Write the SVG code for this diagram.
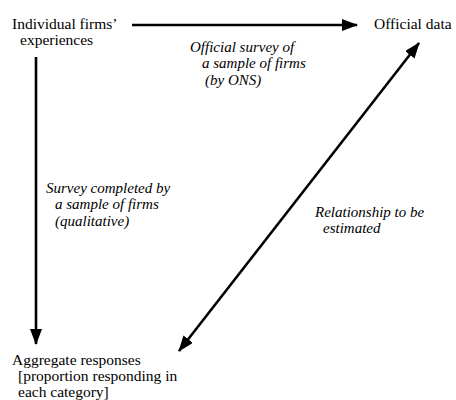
<svg xmlns="http://www.w3.org/2000/svg" width="456" height="400" viewBox="0 0 456 400">
<style>
.c{stroke:#000;stroke-width:2.6;fill:none}
</style>
<defs>
<marker id="ah" markerUnits="userSpaceOnUse" markerWidth="16" markerHeight="12" refX="15" refY="6" orient="auto-start-reverse">
<path d="M0,0 L16,6 L0,12 Z" fill="#000"/>
</marker>
</defs>
<rect width="456" height="400" fill="#fff"/>
<g id="connectors">
<line class="c" x1="132" y1="25" x2="357" y2="25" marker-end="url(#ah)"/>
<line class="c" x1="36" y1="57" x2="36" y2="344" marker-end="url(#ah)"/>
<line class="c" x1="419" y1="43" x2="179" y2="351" marker-start="url(#ah)" marker-end="url(#ah)"/>
</g>
<g font-family="Liberation Serif, Times New Roman, Tinos, DejaVu Serif, serif" font-size="15.5" fill="#000">
<g id="firms">
<text x="12" y="29">Individual firms’</text>
<text x="20" y="45">experiences</text>
</g>
<g id="official">
<text x="374" y="29">Official data</text>
</g>
<g id="aggregate">
<text x="12" y="365">Aggregate responses</text>
<text x="18" y="381">[proportion responding in</text>
<text x="18" y="397">each category]</text>
</g>
<g id="labels" font-style="italic" font-size="15">
<text x="190" y="52">Official survey of</text>
<text x="202" y="68">a sample of firms</text>
<text x="205" y="85">(by ONS)</text>
<text x="46" y="193">Survey completed by</text>
<text x="55" y="209">a sample of firms</text>
<text x="55" y="226">(qualitative)</text>
<text x="315" y="217">Relationship to be</text>
<text x="323" y="233">estimated</text>
</g>
</g>
</svg>
